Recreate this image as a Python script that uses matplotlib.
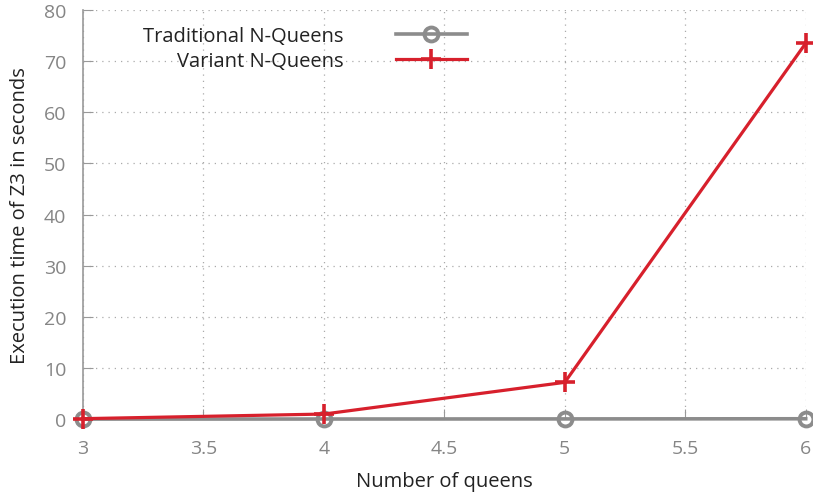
import matplotlib.pyplot as plt

queens = [3, 4, 5, 6]
traditional = [0.02, 0.03, 0.05, 0.08]
variant = [0.1, 1.0, 7.2, 73.5]

xticks = [3, 3.5, 4, 4.5, 5, 5.5, 6]
yticks = [0, 10, 20, 30, 40, 50, 60, 70, 80]

plt.rcParams['font.family'] = ['Open Sans', 'DejaVu Sans']

gray = '#8c8c8c'
red = '#d7202c'

fig = plt.figure(figsize=(8.13, 5.02), dpi=100)
ax = fig.add_axes([0.102, 0.163, 0.889, 0.815])

ax.plot(queens, traditional, color=gray, lw=2.6, marker='o', ms=10,
        mfc='none', mec=gray, mew=2.8, label='Traditional N-Queens', clip_on=False, zorder=3)
ax.plot(queens, variant, color=red, lw=2.3, marker='+', ms=14,
        mew=2.6, label='Variant N-Queens', clip_on=False, zorder=4)

ax.set_xlim(3, 6)
ax.set_ylim(0, 80)
ax.set_xticks(xticks)
ax.set_xticklabels([f'{t:g}' for t in xticks])
ax.set_yticks(yticks)

ax.grid(True, linestyle=(0, (1, 4)), color='#aaaaaa', lw=0.9)
for s in ['top', 'right', 'bottom']:
    ax.spines[s].set_visible(False)
ax.spines['left'].set_color('#999999')
ax.spines['left'].set_linewidth(1.2)
ax.tick_params(direction='in', length=7, color='#999999', labelsize=14,
               labelcolor='#858585')
ax.tick_params(axis='x', pad=14)
ax.tick_params(axis='y', pad=12)

ax.set_xlabel('Number of queens', fontsize=14.5, color='#222222', labelpad=10)
ax.set_ylabel('Execution time of Z3 in seconds', fontsize=14.5, color='#222222', labelpad=10)

leg = ax.legend(loc='upper right', bbox_to_anchor=(0.574, 0.946),
                bbox_transform=fig.transFigure, markerfirst=False,
                frameon=False, fontsize=14.5, handlelength=3.5, handletextpad=2.6,
                labelspacing=0.25, borderaxespad=0, borderpad=0)
for t in leg.get_texts():
    t.set_ha('right')
    t.set_color('#222222')
leg._legend_box.align = 'right'

fig.savefig('out.png', dpi=100)
